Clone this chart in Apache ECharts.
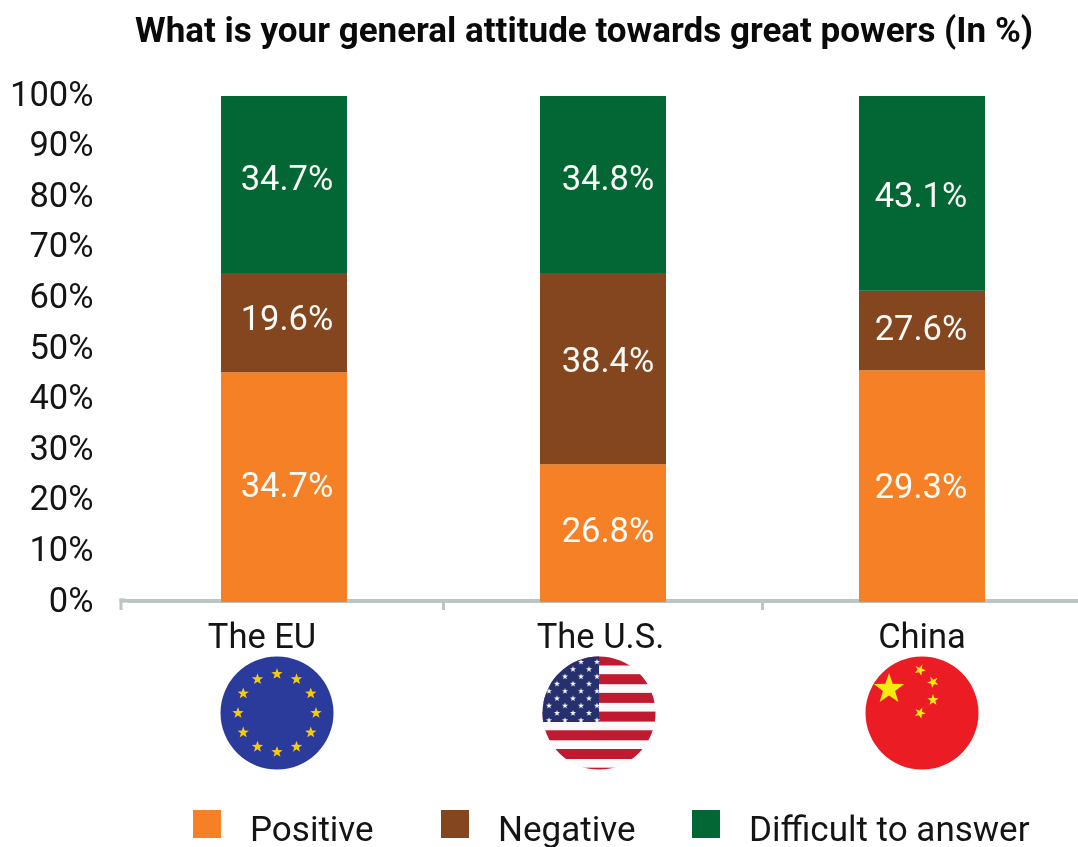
<!DOCTYPE html>
<html>
<head>
<meta charset="utf-8">
<title>Attitude towards great powers</title>
<script src="https://cdn.jsdelivr.net/npm/echarts@6/dist/echarts.min.js"></script>
<style>
  html, body { margin: 0; padding: 0; background: #fff; }
  #chart { width: 1078px; height: 847px; }
</style>
</head>
<body>
<div id="chart"></div>
<script>
const categories = ["The EU", "The U.S.", "China"];
const seriesNames = ["Positive", "Negative", "Difficult to answer"];

// bar heights as drawn in the picture (they do not follow the printed labels)
const positive = [45.4, 27.2, 45.8];
const negative = [19.6, 37.8, 15.7];
const difficult = [35.0, 35.0, 38.5];

// printed labels
const positiveLabels = ["34.7%", "26.8%", "29.3%"];
const negativeLabels = ["19.6%", "38.4%", "27.6%"];
const difficultLabels = ["34.7%", "34.8%", "43.1%"];

const yTicks = [0, 10, 20, 30, 40, 50, 60, 70, 80, 90, 100];

const FONT = "Roboto";
const TEXT = "#141414";
const COLORS = ["#f58026", "#84461f", "#036635"];
const AXIS_GREY = "#bcc5c3";

function star(cx, cy, r, fill, rot) {
  const pts = [];
  for (let i = 0; i < 10; i++) {
    const rad = i % 2 === 0 ? r : r * 0.4;
    const a = -Math.PI / 2 + (rot || 0) + (i * Math.PI) / 5;
    pts.push((cx + rad * Math.cos(a)).toFixed(2) + "," + (cy + rad * Math.sin(a)).toFixed(2));
  }
  return '<polygon fill="' + fill + '" points="' + pts.join(" ") + '"/>';
}

function svgUrl(inner) {
  const svg =
    '<svg xmlns="http://www.w3.org/2000/svg" width="114" height="114" viewBox="0 0 114 114">' +
    '<defs><clipPath id="c"><circle cx="57" cy="57" r="56.5"/></clipPath></defs>' +
    '<g clip-path="url(#c)">' + inner + "</g></svg>";
  return "data:image/svg+xml;charset=utf-8," + encodeURIComponent(svg);
}

function euFlag() {
  let s = '<rect width="114" height="114" fill="#2b3b9b"/>';
  for (let i = 0; i < 12; i++) {
    const a = (i * Math.PI) / 6;
    s += star(57 + 39 * Math.sin(a), 57 - 39 * Math.cos(a), 6, "#f6cb0a");
  }
  return svgUrl(s);
}

function usFlag() {
  let s = '<rect width="114" height="114" fill="#fbf9fa"/>';
  for (let i = 0; i < 7; i++) {
    s += '<rect x="0" y="' + (i * 18.7 - 0.5) + '" width="114" height="10" fill="#bf1a30"/>';
  }
  s += '<rect x="0" y="0" width="57" height="66" fill="#27306f"/>';
  for (let row = 0; row < 9; row++) {
    for (let col = 0; col < 7; col++) {
      if ((row + col) % 2 === 0) s += star(55 - col * 8, 6 + row * 7.3, 3.2, "#f4f4f8");
    }
  }
  return svgUrl(s);
}

function cnFlag() {
  let s = '<rect width="114" height="114" fill="#ec1c24"/>';
  s += star(24, 33, 16, "#f7ea0e");
  s += star(55, 14, 6, "#f7ea0e", 0.4);
  s += star(68, 26, 6, "#f7ea0e", 0.8);
  s += star(68, 44, 6, "#f7ea0e", 0);
  s += star(55, 57, 6, "#f7ea0e", 0.4);
  return svgUrl(s);
}

function flag(cx, cy, image) {
  return { type: "image", silent: true, style: { image: image, x: cx - 57, y: cy - 57, width: 114, height: 114 } };
}

function barSeries(i, values, labels, nudges) {
  return {
    name: seriesNames[i],
    type: "bar",
    stack: "total",
    barWidth: 126,
    itemStyle: { color: COLORS[i] },
    data: values.map((v, k) => ({
      value: v,
      label: { show: true, formatter: labels[k], offset: nudges[k] },
    })),
    label: {
      position: "inside",
      color: "#fbfbf8",
      fontFamily: FONT,
      fontSize: 34.5,
    },
  };
}

// the legend entries are not evenly spaced, so each one gets its own box
function legendEntry(name, left) {
  return {
    left: left,
    top: 810,
    padding: 0,
    icon: "rect",
    itemWidth: 28,
    itemHeight: 28,
    data: [name],
    formatter: "{t|{name}}",
    textStyle: {
      padding: [0, 0, 0, 24],
      rich: { t: { fontFamily: FONT, fontSize: 35, color: TEXT, padding: [16, 0, 0, 0] } },
    },
  };
}

const chart = echarts.init(document.getElementById("chart"), null, { renderer: "canvas" });

chart.setOption({
  animation: false,
  backgroundColor: "#ffffff",
  title: {
    text: "What is your general attitude towards great powers (In %)",
    left: 135,
    top: 16,
    padding: 0,
    textStyle: { fontFamily: FONT, fontWeight: 700, fontSize: 35, color: "#0a0a0a" },
  },
  grid: { left: 124.5, top: 96, width: 957, height: 506, outerBoundsMode: "none" },
  legend: [
    legendEntry(seriesNames[0], 193),
    legendEntry(seriesNames[1], 441),
    legendEntry(seriesNames[2], 692),
  ],
  xAxis: {
    type: "category",
    data: categories,
    offset: -1.5,
    axisLine: { lineStyle: { color: AXIS_GREY, width: 4 } },
    axisTick: { show: true, length: 9.5, lineStyle: { color: AXIS_GREY, width: 3 } },
    axisLabel: {
      margin: 21,
      color: TEXT,
      fontFamily: FONT,
      fontSize: 34.5,
      formatter: (name) => {
        if (name === "The EU") return "{eu|" + name + "}";
        if (name === "The U.S.") return "{us|" + name + "}";
        return name;
      },
      rich: {
        eu: { fontFamily: FONT, fontSize: 34.5, color: TEXT, padding: [0, 44, 0, 0] },
        us: { fontFamily: FONT, fontSize: 34.5, color: TEXT, padding: [0, 5, 0, 0] },
      },
    },
  },
  yAxis: {
    type: "value",
    min: yTicks[0],
    max: yTicks[yTicks.length - 1],
    interval: 10,
    splitLine: { show: false },
    axisLine: { show: false },
    axisTick: { show: false },
    axisLabel: {
      margin: 31,
      formatter: (v) => "{t|" + v + "%}",
      rich: { t: { fontFamily: FONT, fontSize: 34.5, color: TEXT, padding: [2, 0, 0, 0] } },
    },
  },
  series: [
    barSeries(0, positive, positiveLabels, [[3, 1], [5, 0], [-1, 3]]),
    barSeries(1, negative, negativeLabels, [[3, -1], [5, -5], [-1, 1]]),
    barSeries(2, difficult, difficultLabels, [[3, -3], [5, -3], [-1, 5]]),
  ],
  graphic: [
    flag(277, 713, euFlag()),
    flag(599, 713, usFlag()),
    flag(922, 713, cnFlag()),
    // the reference axis starts left of the first band, with its end tick at x=120
    { type: "rect", silent: true, z: 10, shape: { x: 122.5, y: 602.5, width: 5, height: 10 }, style: { fill: "#ffffff" } },
    { type: "rect", silent: true, z: 10, shape: { x: 119.5, y: 598.5, width: 6, height: 4 }, style: { fill: AXIS_GREY } },
    { type: "rect", silent: true, z: 10, shape: { x: 119.5, y: 598.5, width: 3, height: 11.5 }, style: { fill: AXIS_GREY } },
  ],
});
</script>
</body>
</html>
